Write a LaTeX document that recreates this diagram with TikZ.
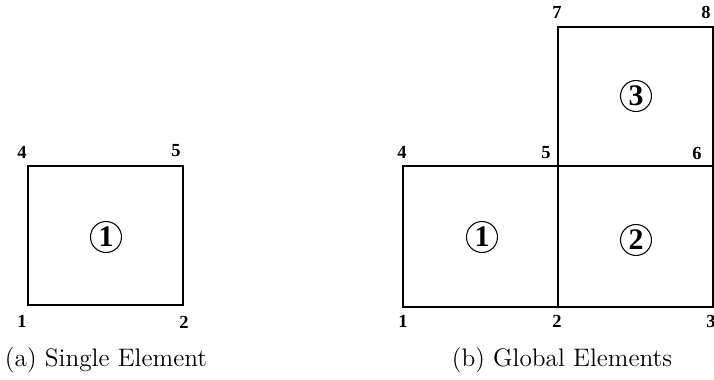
\documentclass[tikz,border=0pt]{standalone}
\usepackage{fontspec}
\newfontfamily\numfont{Liberation Serif}
\usetikzlibrary{positioning}

\tikzset{
  edge/.style={line width=1.1pt, line cap=rect},
  lbl/.style={font=\numfont\bfseries\fontsize{10.5}{12}\selectfont, inner sep=0pt},
  elem/.style={draw, circle, line width=0.6pt, minimum size=0.62cm, inner sep=0pt,
    font=\numfont\bfseries\fontsize{17}{18}\selectfont},
  captext/.style={font=\Large, inner sep=0pt}
}

\begin{document}
\begin{tikzpicture}
\useasboundingbox (0,0) rectangle (14.28,7.58);
% (a) single element
\coordinate (a1) at (0.56,1.48);
\coordinate (a2) at (3.66,1.48);
\coordinate (a4) at (0.56,4.26);
\coordinate (a5) at (3.66,4.26);
\draw[edge] (a1) -- (a2) -- (a5) -- (a4) -- cycle;
\node[lbl] (la1) at (0.44,1.16) {1};
\node[lbl] (la2) at (3.68,1.14) {2};
\node[lbl] (la4) at (0.44,4.54) {4};
\node[lbl] (la5) at (3.52,4.56) {5};
\node[elem] (ea1) at (2.12,2.84) {1};
\node[captext] (capa) at (2.12,0.38) {(a) Single Element};

% (b) global elements
\coordinate (b1) at (8.06,1.44);
\coordinate (b2) at (11.16,1.44);
\coordinate (b3) at (14.26,1.44);
\coordinate (b4) at (8.06,4.26);
\coordinate (b5) at (11.16,4.26);
\coordinate (b6) at (14.26,4.26);
\coordinate (b7) at (11.16,7.04);
\coordinate (b8) at (14.26,7.04);
\draw[edge] (b1) -- (b3) -- (b6) -- (b4) -- cycle;
\draw[edge] (b2) -- (b7) -- (b8) -- (b6);
\node[lbl] (lb1) at (8.06,1.16) {1};
\node[lbl] (lb2) at (11.14,1.16) {2};
\node[lbl] (lb3) at (14.22,1.16) {3};
\node[lbl] (lb4) at (8.04,4.54) {4};
\node[lbl] (lb5) at (10.92,4.52) {5};
\node[lbl] (lb6) at (13.94,4.52) {6};
\node[lbl] (lb7) at (11.14,7.34) {7};
\node[lbl] (lb8) at (14.12,7.34) {8};
\node[elem] (eb1) at (9.64,2.84) {1};
\node[elem] (eb2) at (12.72,2.78) {2};
\node[elem] (eb3) at (12.72,5.66) {3};
\node[captext] (capb) at (11.24,0.38) {(b) Global Elements};
\end{tikzpicture}
\end{document}
